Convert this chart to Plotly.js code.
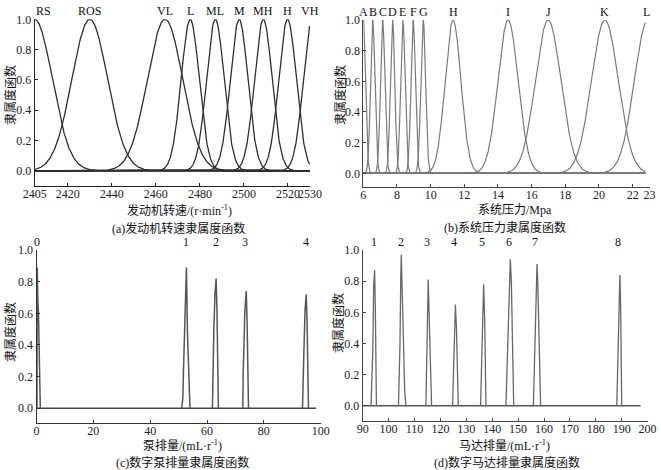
<!DOCTYPE html>
<html>
<head>
<meta charset="utf-8">
<script src="https://cdn.plot.ly/plotly-3.0.1.min.js"></script>
<style>html,body{margin:0;padding:0;background:#fff}#chart{width:661px;height:470px}</style>
</head>
<body>
<div id="chart"></div>
<script>
// (a) engine speed membership functions (Gaussian: centre, width)
const rpmLabels  = ['RS','ROS','VL','L','ML','M','MH','H','VH'];
const rpmCenters = [2405, 2430, 2464.2, 2475.6, 2487, 2497.8, 2508.8, 2519.8, 2531];
const rpmWidths  = [8, 8.1, 8, 4.1, 4, 4, 4, 4, 4];
const rpmDomain  = [2405, 2529.8];
const rpmTicks   = [2405, 2420, 2440, 2460, 2480, 2500, 2520, 2530];

// (b) system pressure membership functions
const presLabels  = ['A','B','C','D','E','F','G','H','I','J','K','L'];
const presCenters = [6, 6.56, 7.15, 7.74, 8.35, 8.96, 9.56, 11.33, 14.6, 16.98, 20.35, 22.9];
const presWidths  = [0.13, 0.13, 0.13, 0.13, 0.13, 0.13, 0.14, 0.47, 0.6, 0.76, 0.8, 0.8];
const presDomain  = [6, 22.75];
const presTicks   = [6, 8, 10, 12, 14, 16, 18, 20, 22, 23];

// (c) digital pump displacement membership
const pumpLabels = ['0','1','2','3','4'];
const pumpLabelX = [0, 52.6, 63.0, 73.4, 94.8];
const pumpX0 = [0.15, 0.25, 0.5, 0.7, 1.1, 1.35];
const pumpY0 = [0, 0.89, 0.67, 0.6, 0.22, 0];
const pumpX1 = [51.1, 51.5, 51.7, 52.0, 52.4, 52.75, 53.1, 53.6, 54.0];
const pumpY1 = [0, 0.07, 0.23, 0.46, 0.75, 0.89, 0.49, 0.15, 0];
const pumpX2 = [61.9, 62.0, 62.4, 62.8, 63.2, 63.5, 63.9, 64.0];
const pumpY2 = [0, 0.2, 0.5, 0.72, 0.82, 0.62, 0.21, 0];
const pumpX3 = [72.6, 72.7, 73.3, 73.8, 74.1, 74.5, 74.6];
const pumpY3 = [0, 0.2, 0.61, 0.74, 0.55, 0.18, 0];
const pumpX4 = [93.6, 93.7, 94.1, 94.5, 94.9, 95.2, 95.6, 95.7];
const pumpY4 = [0, 0.12, 0.37, 0.62, 0.72, 0.55, 0.18, 0];
const pumpDomain = [0, 98.4];

// (d) digital motor displacement membership
const motorLabels = ['1','2','3','4','5','6','7','8'];
const motorLabelX = [94.2, 104.7, 115.0, 125.4, 136.0, 146.6, 156.5, 188.7];
const motorX1 = [93.2, 93.9, 94.25, 94.6, 94.9, 95.3];
const motorY1 = [0, 0.35, 0.77, 0.87, 0.6, 0];
const motorX2 = [103.8, 104.4, 104.7, 104.9, 105.3, 106.2, 106.7];
const motorY2 = [0, 0.4, 0.82, 0.97, 0.7, 0.1, 0];
const motorX3 = [114.4, 114.9, 115.1, 115.3, 115.7, 116.6];
const motorY3 = [0, 0.35, 0.68, 0.81, 0.55, 0];
const motorX4 = [124.7, 125.3, 125.6, 125.8, 126.2, 126.9];
const motorY4 = [0, 0.3, 0.55, 0.65, 0.5, 0];
const motorX5 = [135.5, 136.1, 136.5, 136.7, 137.1, 137.6];
const motorY5 = [0, 0.35, 0.67, 0.78, 0.55, 0];
const motorX6 = [145.3, 146.2, 146.7, 147.0, 147.4, 148.3];
const motorY6 = [0, 0.45, 0.75, 0.94, 0.79, 0];
const motorX7 = [155.9, 156.7, 157.1, 157.3, 157.6, 158.7];
const motorY7 = [0, 0.45, 0.7, 0.91, 0.79, 0];
const motorX8 = [188.1, 188.6, 189.0, 189.3, 189.6, 190.0];
const motorY8 = [0, 0.4, 0.75, 0.84, 0.63, 0];
const motorDomain = [90, 197.3];

const yTicks = [0, 0.2, 0.4, 0.6, 0.8, 1.0];

// ---------- build ----------
const W = 661, H = 470;
const px = v => v / W;
const py = v => 1 - v / H;
const serif = 'Liberation Serif, "Noto Sans CJK SC", serif';
const cjk = '"Liberation Serif", "Noto Sans CJK SC", sans-serif';

function gaussTraces(centers, widths, domain, xa, ya, color, lw, n) {
  const out = [];
  for (let k = 0; k < centers.length; k++) {
    const xs = [], ys = [];
    for (let i = 0; i <= n; i++) {
      const x = domain[0] + (domain[1] - domain[0]) * i / n;
      xs.push(x);
      ys.push(Math.exp(-Math.pow(x - centers[k], 2) / (2 * widths[k] * widths[k])));
    }
    out.push({x: xs, y: ys, type: 'scatter', mode: 'lines', xaxis: xa, yaxis: ya,
      line: {color: color, width: lw}, hoverinfo: 'skip', showlegend: false, cliponaxis: false});
  }
  return out;
}
function lineTrace(xs, ys, xa, ya, color, lw) {
  return {x: xs, y: ys, type: 'scatter', mode: 'lines', xaxis: xa, yaxis: ya,
    line: {color: color, width: lw}, hoverinfo: 'skip', showlegend: false, cliponaxis: false};
}

let traces = [];
traces.push(lineTrace(rpmDomain, [0, 0], 'x', 'y', '#333', 1.2));
traces = traces.concat(gaussTraces(rpmCenters, rpmWidths, rpmDomain, 'x', 'y', '#2e2e2e', 1.3, 800));
traces.push(lineTrace(presDomain, [0, 0], 'x2', 'y2', '#999', 1.6));
traces = traces.concat(gaussTraces(presCenters, presWidths, presDomain, 'x2', 'y2', '#7a7a7a', 1.2, 2000));

traces.push(lineTrace(pumpDomain, [0, 0], 'x3', 'y3', '#444', 1.6));
[[pumpX0,pumpY0],[pumpX1,pumpY1],[pumpX2,pumpY2],[pumpX3,pumpY3],[pumpX4,pumpY4]].forEach(p => {
  traces.push(lineTrace(p[0], p[1], 'x3', 'y3', '#555', 1.5));
});
traces.push(lineTrace(motorDomain, [0, 0], 'x4', 'y4', '#555', 1.4));
[[motorX1,motorY1],[motorX2,motorY2],[motorX3,motorY3],[motorX4,motorY4],
 [motorX5,motorY5],[motorX6,motorY6],[motorX7,motorY7],[motorX8,motorY8]].forEach(p => {
  traces.push(lineTrace(p[0], p[1], 'x4', 'y4', '#666', 1.3));
});

function xAxis(domain, range, ticks, anchor, color) {
  return {domain: domain, range: range, tickvals: ticks, ticktext: ticks.map(String), tickangle: 0,
    showline: true, linecolor: color, linewidth: 1, ticks: 'inside', ticklen: 3, tickcolor: color,
    showgrid: false, zeroline: false, anchor: anchor, fixedrange: true, ticklabelstandoff: -3,
    tickfont: {family: serif, size: 12, color: '#222'}};
}
function yAxis(domain, range, anchor, color) {
  return {domain: domain, range: range, tickvals: yTicks, ticktext: yTicks.map(v => v.toFixed(1)),
    showline: true, linecolor: color, linewidth: 1, ticks: 'inside', ticklen: 3, tickcolor: color,
    showgrid: false, zeroline: false, anchor: anchor, fixedrange: true,
    tickfont: {family: serif, size: 12, color: '#222'}};
}

const annotations = [];
function topLabels(labels, xs, xa, ya) {
  labels.forEach((t, i) => annotations.push({text: t, x: xs[i], y: 1, xref: xa, yref: ya,
    xanchor: (xa === 'x' && i === 0) ? 'left' : 'center', yanchor: 'bottom', yshift: 0, borderpad: 0,
    showarrow: false, font: {family: serif, size: 12, color: '#111'}}));
}
topLabels(rpmLabels, rpmCenters.map((c, i) => i === rpmCenters.length - 1 ? 2530 : c), 'x', 'y');
topLabels(presLabels, presCenters.map((c, i) => i === presCenters.length - 1 ? 22.8 : c), 'x2', 'y2');
topLabels(pumpLabels, pumpLabelX, 'x3', 'y3');
topLabels(motorLabels, motorLabelX, 'x4', 'y4');

function txt(t, x, y, size, angle) {
  annotations.push({text: t, x: px(x), y: py(y), xref: 'paper', yref: 'paper', xanchor: 'center', yanchor: 'middle',
    showarrow: false, borderpad: 0, textangle: angle || 0, font: {family: cjk, size: size, color: '#111'}});
}
// y titles
txt('隶属度函数', 10, 95, 12, -90);
txt('隶属度函数', 340, 95, 12, -90);
txt('隶属度函数', 10, 332, 12, -90);
txt('隶属度函数', 338, 323, 12, -90);
// x titles
txt('发动机转速/(r·min<sup>-1</sup>)', 179, 211, 12);
txt('系统压力/Mpa', 515, 210, 12);
txt('泵排量/(mL·r<sup>-1</sup>)', 182, 445, 12);
txt('马达排量/(mL·r<sup>-1</sup>)', 504, 445, 12);
// captions
txt('(a)发动机转速隶属度函数', 178, 228, 12);
txt('(b)系统压力隶属度函数', 505, 227, 12);
txt('(c)数字泵排量隶属度函数', 182, 462, 12);
txt('(d)数字马达排量隶属度函数', 507, 462, 12);

const layout = {
  width: W, height: H, margin: {l: 0, r: 0, t: 0, b: 0, pad: 0},
  paper_bgcolor: '#fff', plot_bgcolor: 'rgba(0,0,0,0)', showlegend: false,
  xaxis:  xAxis([px(34.7), px(310)], [2405, 2530], rpmTicks, 'y', '#222'),
  yaxis:  yAxis([py(185.5), py(19.3)], [-0.097, 1.0], 'x', '#222'),
  xaxis2: xAxis([px(363.3), px(649.5)], [6, 23], presTicks, 'y2', '#444'),
  yaxis2: yAxis([py(186.5), py(20)], [-0.086, 1.0], 'x2', '#444'),
  xaxis3: xAxis([px(36.5), px(320.7)], [0, 100], [0, 20, 40, 60, 80, 100], 'y3', '#333'),
  yaxis3: yAxis([py(422.5), py(250)], [-0.09, 1.0], 'x3', '#333'),
  xaxis4: xAxis([px(362.7), px(647.6)], [90, 200], [90,100,110,120,130,140,150,160,170,180,190,200], 'y4', '#444'),
  yaxis4: yAxis([py(421), py(250)], [-0.098, 1.0], 'x4', '#444'),
  annotations: annotations
};

Plotly.newPlot('chart', traces, layout, {staticPlot: true, displayModeBar: false});
</script>
</body>
</html>
